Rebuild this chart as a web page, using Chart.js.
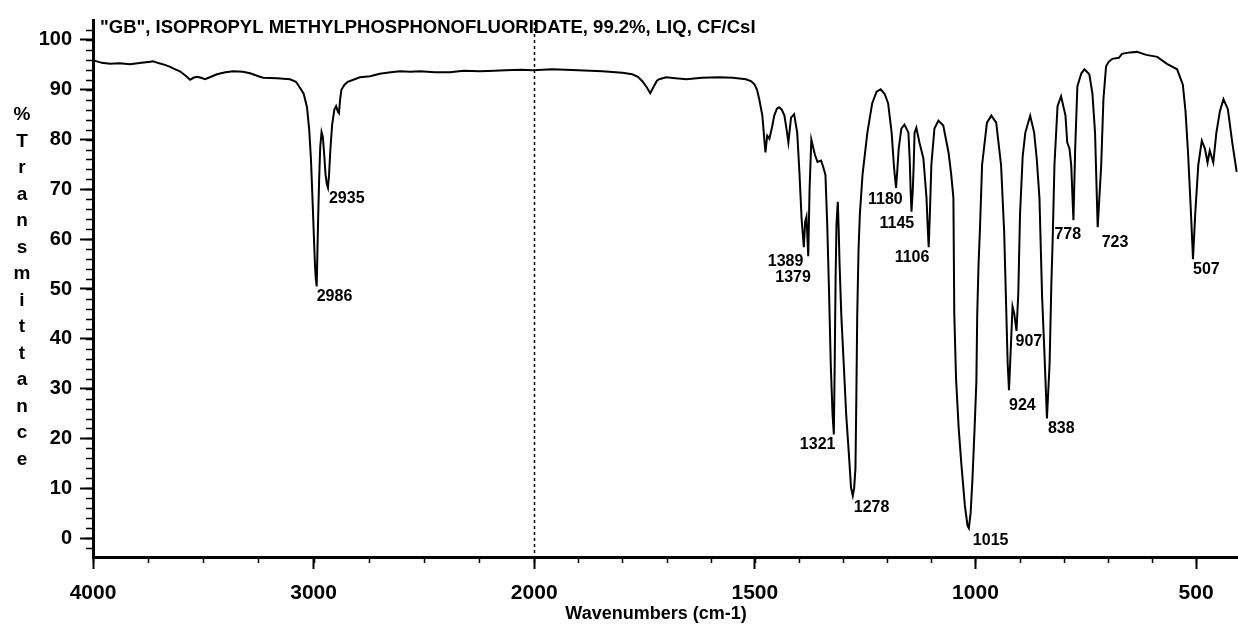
<!DOCTYPE html>
<html>
<head>
<meta charset="utf-8">
<script src="https://cdn.jsdelivr.net/npm/chart.js@4.4.1/dist/chart.umd.min.js"></script>
<style>
  html, body { margin: 0; padding: 0; background: #fff; }
  #wrap { position: relative; width: 1238px; height: 628px; }
</style>
</head>
<body>
<div id="wrap"><canvas id="chart"></canvas></div>
<script>
// IR spectrum of GB (sarin), wavenumber (cm-1) vs %T
const chartTitle = '"GB", ISOPROPYL METHYLPHOSPHONOFLUORIDATE, 99.2%, LIQ, CF/CsI';
const xTitle = 'Wavenumbers (cm-1)';
const yTitle = '%Transmittance';

const wavenumbers = [
  4000, 3990, 3960, 3923, 3880, 3832, 3780, 3740, 3728, 3700, 3674, 3650, 3637, 3606, 3580, 3560,
  3545, 3529, 3510, 3492, 3465, 3438, 3400, 3365, 3320, 3288, 3250, 3229, 3166, 3107, 3080, 3062,
  3045, 3030, 3020, 3012, 3005, 3000, 2994, 2990, 2986, 2983, 2979, 2975, 2970, 2964, 2958, 2952,
  2946, 2940, 2935, 2930, 2924, 2916, 2906, 2898, 2890, 2885, 2880, 2874, 2860, 2845, 2820, 2790,
  2744, 2700, 2650, 2608, 2560, 2518, 2450, 2382, 2320, 2246, 2180, 2132, 2060, 2006,
  1959, 1900, 1846, 1800, 1778, 1765, 1755, 1745, 1737, 1730, 1722, 1717, 1701, 1680, 1655, 1620,
  1581, 1550, 1520, 1508, 1501, 1495, 1490, 1483, 1476, 1472, 1467, 1461, 1456, 1450, 1445, 1439,
  1433, 1428, 1424, 1418, 1411, 1404, 1399, 1394, 1389, 1386, 1383, 1379, 1376, 1372, 1368, 1364,
  1358, 1350, 1345, 1340, 1336, 1332, 1328, 1324, 1321, 1319, 1317, 1315, 1312, 1310, 1308, 1304,
  1298, 1293, 1287, 1282, 1278, 1275, 1272, 1270, 1268, 1265, 1262, 1256, 1245, 1234, 1224, 1215,
  1206, 1198, 1190, 1185, 1183, 1180, 1177, 1174, 1168, 1161, 1152, 1149, 1147, 1145, 1142, 1140,
  1138, 1134, 1127, 1118, 1111, 1108, 1106, 1103, 1100, 1093, 1084, 1073, 1061, 1055, 1050, 1048,
  1044, 1038, 1032, 1024, 1018, 1015, 1011, 1007, 1002, 998, 996, 993, 990, 985, 974, 964,
  953, 942, 935, 930, 927, 924, 920, 916, 912, 907, 903, 899, 893, 887, 876, 867,
  861, 855, 849, 844, 838, 832, 828, 825, 821, 814, 806, 796, 792, 787, 783, 778,
  774, 769, 760, 753, 742, 735, 729, 723, 715, 710, 704, 698, 690, 675, 668, 650,
  634, 613, 588, 566, 543, 530, 524, 518, 512, 507, 502, 495, 487, 480, 474, 469,
  461, 454, 446, 438, 428, 418, 408
];
const transmittance = [
  96.0, 95.8, 95.4, 95.2, 95.3, 95.1, 95.4, 95.6, 95.7, 95.3, 95.0, 94.6, 94.3, 93.7, 92.8, 92.0,
  92.4, 92.6, 92.4, 92.1, 92.6, 93.1, 93.5, 93.7, 93.6, 93.3, 92.7, 92.4, 92.3, 92.1, 91.6, 90.4,
  89.2, 86.5, 82, 76, 68, 62, 55, 52, 50.5, 57, 65, 72, 78.5, 81.5, 80.5, 77,
  73, 71, 70.3, 73, 78, 83, 86, 86.7, 85.6, 85.3, 88, 90, 91, 91.6, 92, 92.5,
  92.7, 93.2, 93.5, 93.7, 93.6, 93.7, 93.5, 93.5, 93.8, 93.7, 93.8, 93.9, 94.0, 93.9,
  94.1, 93.9, 93.7, 93.4, 93.1, 92.6, 91.7, 90.5, 89.3, 90.5, 91.8, 92.1, 92.5, 92.3, 92.1, 92.4,
  92.5, 92.4, 92.1, 91.7, 91.1, 90, 88.1, 84.8, 77.4, 80.8, 80.2, 82.5, 84.8, 86.2, 86.5, 86,
  84.8, 82, 79.4, 84.4, 85.1, 81.4, 73.5, 64, 58.4, 63.5, 64.5, 56.6, 70, 80, 78.5, 77,
  75.5, 75.8, 74.5, 72.9, 63, 50, 35, 25, 20.8, 35, 52, 63, 67.5, 62, 55, 44.6,
  34, 24.8, 17, 10.1, 8.5, 10, 14, 28, 44.6, 58, 65, 72.9, 81.4, 87.3, 89.6, 90.1,
  89.2, 87.3, 81.4, 75, 72.9, 70.3, 74, 78.2, 82.2, 83, 81.4, 76, 70, 65.5, 70, 74.9,
  81.4, 82.4, 79.4, 76.2, 68.3, 62, 58.4, 66, 74.9, 82.2, 83.8, 82.8, 77.4, 73, 68.3, 45,
  32, 22, 14.9, 6.5, 2.5, 2, 5, 11.5, 22, 31.3, 45, 55, 61.6, 74.9, 83.4, 84.8,
  83.4, 74.9, 61.6, 45, 35, 29.7, 38, 46.5, 45, 41.6, 49, 65, 76.6, 81.4, 84.8, 81.4,
  76, 68.3, 48.5, 37.8, 24, 35, 51, 60, 74.9, 86.7, 88.7, 84.8, 79.4, 78.2, 74.9, 63.8,
  78.2, 90.7, 93.3, 94.1, 93.1, 89.3, 81.4, 62.4, 74.9, 88.1, 94.7, 95.6, 96.2, 96.4, 97.2, 97.5,
  97.6, 97.0, 96.6, 95.2, 94.1, 91, 85.7, 77, 66, 56, 65, 74.9, 79.8, 78.2, 75.4, 77.8,
  75.4, 81.4, 85.7, 88.1, 86.1, 79.4, 73.5
];

// labelled peaks
const peakWavenumbers = [2986, 2935, 1389, 1379, 1321, 1278, 1180, 1145, 1106, 1015, 924, 907, 838, 778, 723, 507];
const peakTransmittance = [50.5, 70.3, 58.4, 56.6, 20.8, 8.5, 70.3, 65.5, 58.4, 2, 29.7, 41.6, 24, 63.8, 62.4, 56];
// where each label sits relative to its peak (px: left edge, middle)
const peakLabelOffsets = [[0, 10], [1, 11], [-36, 14], [-33, 21], [-34, 10], [1, 12], [-28, 12], [-32, 12],
  [-34, 10], [4, 12], [0, 15], [-1, 11], [1, 10], [-19, 14], [4, 15], [0, 10]];

const xTickLabels = [4000, 3000, 2000, 1500, 1000, 500];
const yTickLabels = [0, 10, 20, 30, 40, 50, 60, 70, 80, 90, 100];

// the scan doubles the scale below 2000 cm-1
const toU = (wn) => wn >= 2000 ? 4000 - wn : 2000 + 2 * (2000 - wn);
const fromU = (u) => u <= 2000 ? 4000 - u : 2000 - (u - 2000) / 2;

const fontFamily = '"Liberation Sans", Arial, sans-serif';

const points = wavenumbers.map((w, i) => ({ x: toU(w), y: transmittance[i] }));

const decor = {
  id: 'decor',
  beforeDatasetsDraw(chart) {
    const ctx = chart.ctx;
    const xs = chart.scales.x;
    const area = chart.chartArea;
    const px = Math.round(xs.getPixelForValue(toU(2000))) + 0.5;
    ctx.save();
    ctx.setLineDash([3, 3]);
    ctx.lineWidth = 1.5;
    ctx.strokeStyle = '#000';
    ctx.beginPath();
    ctx.moveTo(px, area.top + 2);
    ctx.lineTo(px, area.bottom);
    ctx.stroke();
    ctx.restore();
  },
  afterDraw(chart) {
    const ctx = chart.ctx;
    const xs = chart.scales.x;
    const ys = chart.scales.y;
    const area = chart.chartArea;
    ctx.save();
    ctx.strokeStyle = '#000';
    ctx.fillStyle = '#000';

    // minor ticks
    ctx.lineWidth = 1.5;
    ctx.beginPath();
    for (let u = 0; u <= 5190; u += (u < 2000 ? 250 : 200)) {
      const p = Math.round(xs.getPixelForValue(u)) + 0.5;
      ctx.moveTo(p, area.bottom);
      ctx.lineTo(p, area.bottom + 6);
    }
    for (let v = -2; v <= 102; v += 2) {
      const p = Math.round(ys.getPixelForValue(v)) + 0.5;
      ctx.moveTo(area.left, p);
      ctx.lineTo(area.left - 7, p);
    }
    ctx.stroke();

    // title inside the plot
    ctx.font = 'bold 18.5px ' + fontFamily;
    ctx.textBaseline = 'middle';
    ctx.textAlign = 'left';
    ctx.fillText(chartTitle, 100, 28);

    // stacked y title
    ctx.font = 'bold 19px ' + fontFamily;
    ctx.textAlign = 'center';
    [...yTitle].forEach((c, i) => ctx.fillText(c, 22, 115 + i * 26.5));

    // x title
    ctx.font = 'bold 18px ' + fontFamily;
    ctx.fillText(xTitle, 656, 614);

    // peak labels
    ctx.font = 'bold 16px ' + fontFamily;
    ctx.textAlign = 'left';
    peakWavenumbers.forEach((w, i) => {
      const px = xs.getPixelForValue(toU(w));
      const py = ys.getPixelForValue(peakTransmittance[i]);
      const [dx, dy] = peakLabelOffsets[i];
      ctx.fillText(String(w), px + dx, py + dy);
    });
    ctx.restore();
  }
};

new Chart(document.getElementById('chart').getContext('2d'), {
  type: 'line',
  data: {
    datasets: [{
      label: yTitle,
      data: points,
      borderColor: '#000',
      borderWidth: 2,
      pointRadius: 0,
      tension: 0,
      fill: false
    }]
  },
  options: {
    responsive: true,
    maintainAspectRatio: false,
    animation: false,
    devicePixelRatio: 1,
    layout: { padding: { top: 13, right: 0, left: 0, bottom: 0 } },
    plugins: { legend: { display: false }, title: { display: false }, tooltip: { enabled: false } },
    scales: {
      x: {
        type: 'linear',
        min: 0,
        max: 5190,
        afterFit: (s) => { s.height = 71; },
        afterBuildTicks: (s) => { s.ticks = xTickLabels.map(w => ({ value: toU(w) })); },
        ticks: {
          callback: (v) => String(Math.round(fromU(v))),
          font: { family: fontFamily, size: 21, weight: 'bold' },
          color: '#000',
          padding: 12,
          maxRotation: 0,
          autoSkip: false
        },
        grid: { drawOnChartArea: false, drawTicks: true, tickLength: 12, tickWidth: 2, tickColor: '#000' },
        border: { display: true, color: '#000', width: 3 }
      },
      y: {
        type: 'linear',
        min: -3.8,
        max: 104,
        afterFit: (s) => { s.width = 93; },
        afterBuildTicks: (s) => { s.ticks = yTickLabels.map(v => ({ value: v })); },
        ticks: { font: { family: fontFamily, size: 20, weight: 'bold' }, color: '#000', padding: 8, autoSkip: false },
        grid: { drawOnChartArea: false, drawTicks: true, tickLength: 13, tickWidth: 2, tickColor: '#000' },
        border: { display: true, color: '#000', width: 3 }
      }
    }
  },
  plugins: [decor]
});
</script>
</body>
</html>
